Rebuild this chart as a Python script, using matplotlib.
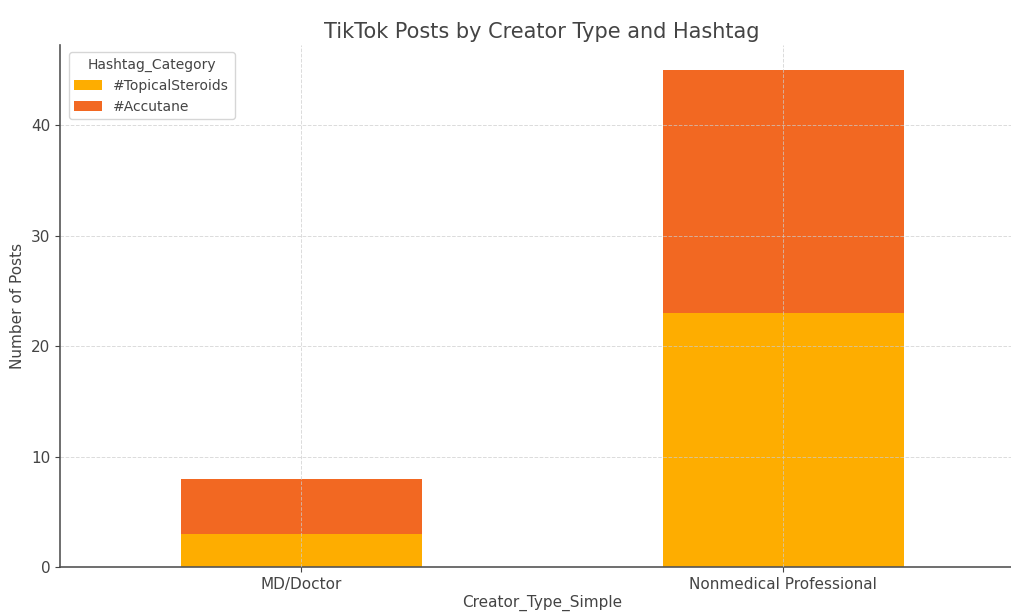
import numpy as np
import matplotlib.pyplot as plt

creators = ["MD/Doctor", "Nonmedical Professional"]
hashtags = ["#TopicalSteroids", "#Accutane"]
topical = [3, 23]
accutane = [5, 22]
colors = ["#FEAD00", "#F26822"]

plt.rcParams['font.family'] = ['DejaVu Sans']
text_c = "#444444"

fig = plt.figure(figsize=(10.12, 6.12), dpi=100)
ax = fig.add_axes([60 / 1012, 1 - 567 / 612, 964 / 1012, 522 / 612])

x = np.arange(len(creators))
ax.bar(x, topical, width=0.5, color=colors[0], label=hashtags[0])
ax.bar(x, accutane, width=0.5, bottom=topical, color=colors[1], label=hashtags[1])

ax.set_xlim(-0.5, 1.5)
ax.set_ylim(0, 47.25)
ax.set_xticks(x)
ax.set_xticklabels(creators)
ax.set_yticks([0, 10, 20, 30, 40])

ax.grid(True, color="#cccccc", linestyle="--", linewidth=0.7, alpha=0.7)
ax.set_axisbelow(False)

for s in ["top", "right"]:
    ax.spines[s].set_visible(False)
for s in ["left", "bottom"]:
    ax.spines[s].set_color("#555555")
    ax.spines[s].set_linewidth(1.2)

ax.tick_params(colors=text_c, labelsize=11)
ax.set_title("TikTok Posts by Creator Type and Hashtag", fontsize=15, color=text_c, pad=5)
ax.set_xlabel("Creator_Type_Simple", fontsize=11, color=text_c, labelpad=2)
ax.set_ylabel("Number of Posts", fontsize=11, color=text_c)

leg = ax.legend(title="Hashtag_Category", loc="upper left", fontsize=10,
                title_fontsize=10, frameon=True, bbox_to_anchor=(0.002, 1.0))
for t in leg.get_texts():
    t.set_color(text_c)
leg.get_title().set_color(text_c)

fig.savefig("out.png", dpi=100)
